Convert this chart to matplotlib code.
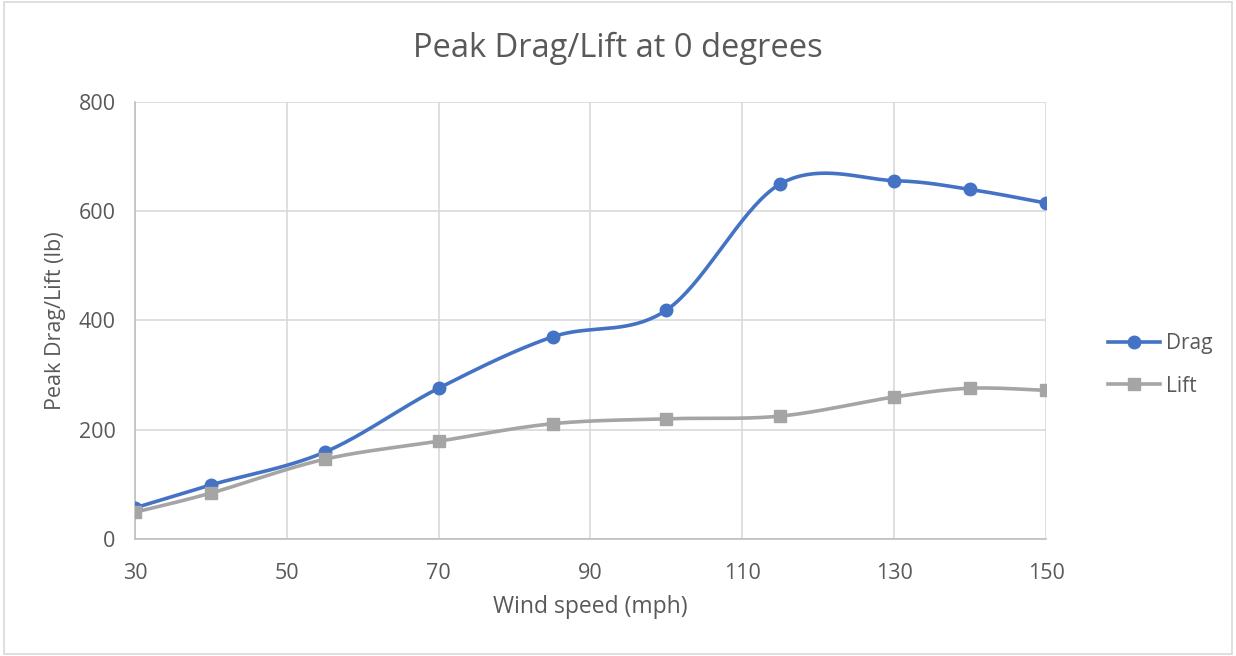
import numpy as np
import matplotlib
matplotlib.use("Agg")
import matplotlib.pyplot as plt
from matplotlib.patches import Rectangle
from matplotlib.lines import Line2D

wind_speed = [30, 40, 55, 70, 85, 100, 115, 130, 140, 150]
drag = [57, 99, 159, 276, 370, 419, 650, 656, 640, 615]
lift = [49, 84, 146, 179, 211, 220, 225, 260, 276, 272]

x_ticks = [30, 50, 70, 90, 110, 130, 150]
y_ticks = [0, 200, 400, 600, 800]

plt.rcParams['font.family'] = ['Open Sans', 'DejaVu Sans']


def smooth(x, y, n=40):
    """Excel-style smoothed line (Catmull-Rom Bezier)."""
    x = np.asarray(x, float)
    y = np.asarray(y, float)
    P = np.column_stack([x, y])
    out = []
    for i in range(len(P) - 1):
        p0 = P[i - 1] if i > 0 else P[i]
        p1 = P[i]
        p2 = P[i + 1]
        p3 = P[i + 2] if i + 2 < len(P) else P[i + 1]
        c1 = p1 + (p2 - p0) / 6.0
        c2 = p2 - (p3 - p1) / 6.0
        t = np.linspace(0, 1, n)[:, None]
        seg = ((1 - t) ** 3) * p1 + 3 * ((1 - t) ** 2) * t * c1 + 3 * (1 - t) * t ** 2 * c2 + t ** 3 * p2
        out.append(seg if i == 0 else seg[1:])
    s = np.vstack(out)
    return s[:, 0], s[:, 1]


fig = plt.figure(figsize=(12.36, 6.56), dpi=100)
ax = fig.add_axes([0.1092, 0.1784, 0.7371, 0.6661])

grid_c = '#d9d9d9'
text_c = '#595959'
blue = '#4472c4'
gray = '#a5a5a5'

sx, sy = smooth(wind_speed, drag)
ax.plot(sx, sy, color=blue, lw=2.6, solid_capstyle='round', zorder=3)
ax.plot(wind_speed, drag, ls='none', marker='o', ms=9, color=blue, zorder=4)
sx, sy = smooth(wind_speed, lift)
ax.plot(sx, sy, color=gray, lw=2.6, solid_capstyle='round', zorder=3)
ax.plot(wind_speed, lift, ls='none', marker='s', ms=8.5, color=gray, zorder=4)

ax.set_xlim(30, 150)
ax.set_ylim(0, 800)
ax.set_xticks(x_ticks)
ax.set_yticks(y_ticks)
ax.grid(True, color=grid_c, lw=1.2)
ax.set_axisbelow(True)
for s in ['top', 'right']:
    ax.spines[s].set_visible(False)
for s in ['left', 'bottom']:
    ax.spines[s].set_color('#bfbfbf')
    ax.spines[s].set_linewidth(1.2)
ax.tick_params(length=0, labelsize=15.5, labelcolor=text_c)
ax.tick_params(axis='x', pad=17)
ax.tick_params(axis='y', pad=14)

ax.set_xlabel('Wind speed (mph)', fontsize=16.5, color=text_c, labelpad=8)
ax.set_ylabel('Peak Drag/Lift (lb)', fontsize=15.5, color=text_c, labelpad=9)
fig.text(0.5, 0.926, 'Peak Drag/Lift at 0 degrees', ha='center', va='center', fontsize=23.5, color=text_c)

handles = [Line2D([], [], color=blue, lw=2.6, marker='o', ms=9),
           Line2D([], [], color=gray, lw=2.6, marker='s', ms=8.5)]
fig.legend(handles, ['Drag', 'Lift'], loc='center left', bbox_to_anchor=(0.881, 0.444),
           frameon=False, fontsize=15, labelcolor=text_c, handlelength=2.5, handletextpad=0.3,
           labelspacing=1.05)

fig.add_artist(Rectangle((0.003, 0.003), 0.994, 0.994, transform=fig.transFigure,
                         fill=False, edgecolor='#d9d9d9', lw=1.2))

fig.savefig('out.png', dpi=100)
